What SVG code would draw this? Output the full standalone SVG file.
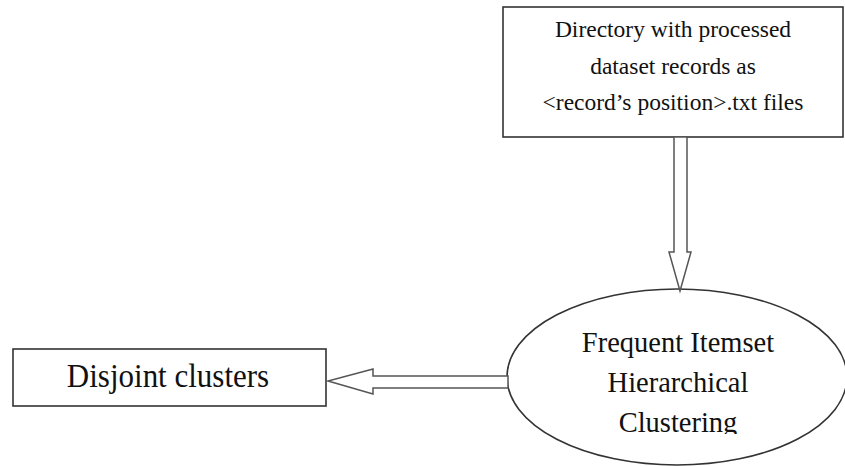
<svg xmlns="http://www.w3.org/2000/svg" width="845" height="466" viewBox="0 0 845 466">
<style>
.box{fill:#fff;stroke:#333;stroke-width:1.6}
.arrow{fill:#fff;stroke:#555;stroke-width:1.5;stroke-linejoin:miter}
.t{font-family:"Liberation Serif","Times New Roman",serif;fill:#111;text-anchor:middle}
</style>
<defs>
<clipPath id="ellclip"><rect x="500" y="280" width="345" height="154"/></clipPath>
</defs>
<rect width="845" height="466" fill="#fff"/>
<g id="directory">
<rect class="box" x="503" y="7" width="340" height="130"/>
<text class="t" font-size="23.5" x="673" y="37">Directory with processed</text>
<text class="t" font-size="23.5" x="673" y="74">dataset records as</text>
<text class="t" font-size="23.5" x="673" y="110">&lt;record’s position&gt;.txt files</text>
</g>
<g id="clustering">
<ellipse class="box" cx="677" cy="377" rx="170" ry="88"/>
<g clip-path="url(#ellclip)">
<text class="t" font-size="28.5" x="678" y="352">Frequent Itemset</text>
<text class="t" font-size="28.5" x="678" y="392">Hierarchical</text>
<text class="t" font-size="28.5" x="678" y="432">Clustering</text>
</g>
</g>
<g id="disjoint">
<rect class="box" x="13" y="349" width="313" height="57"/>
<text class="t" font-size="31" transform="translate(168,387) scale(1,1.08)">Disjoint clusters</text>
</g>
<g id="connectors">
<polygon class="arrow" points="674,137 674,252 669,252 680,291 691,252 687,252 687,137"/>
<polygon class="arrow" points="508,376 373,376 373,369 328,381 373,394 373,388 508,388"/>
</g>
</svg>
